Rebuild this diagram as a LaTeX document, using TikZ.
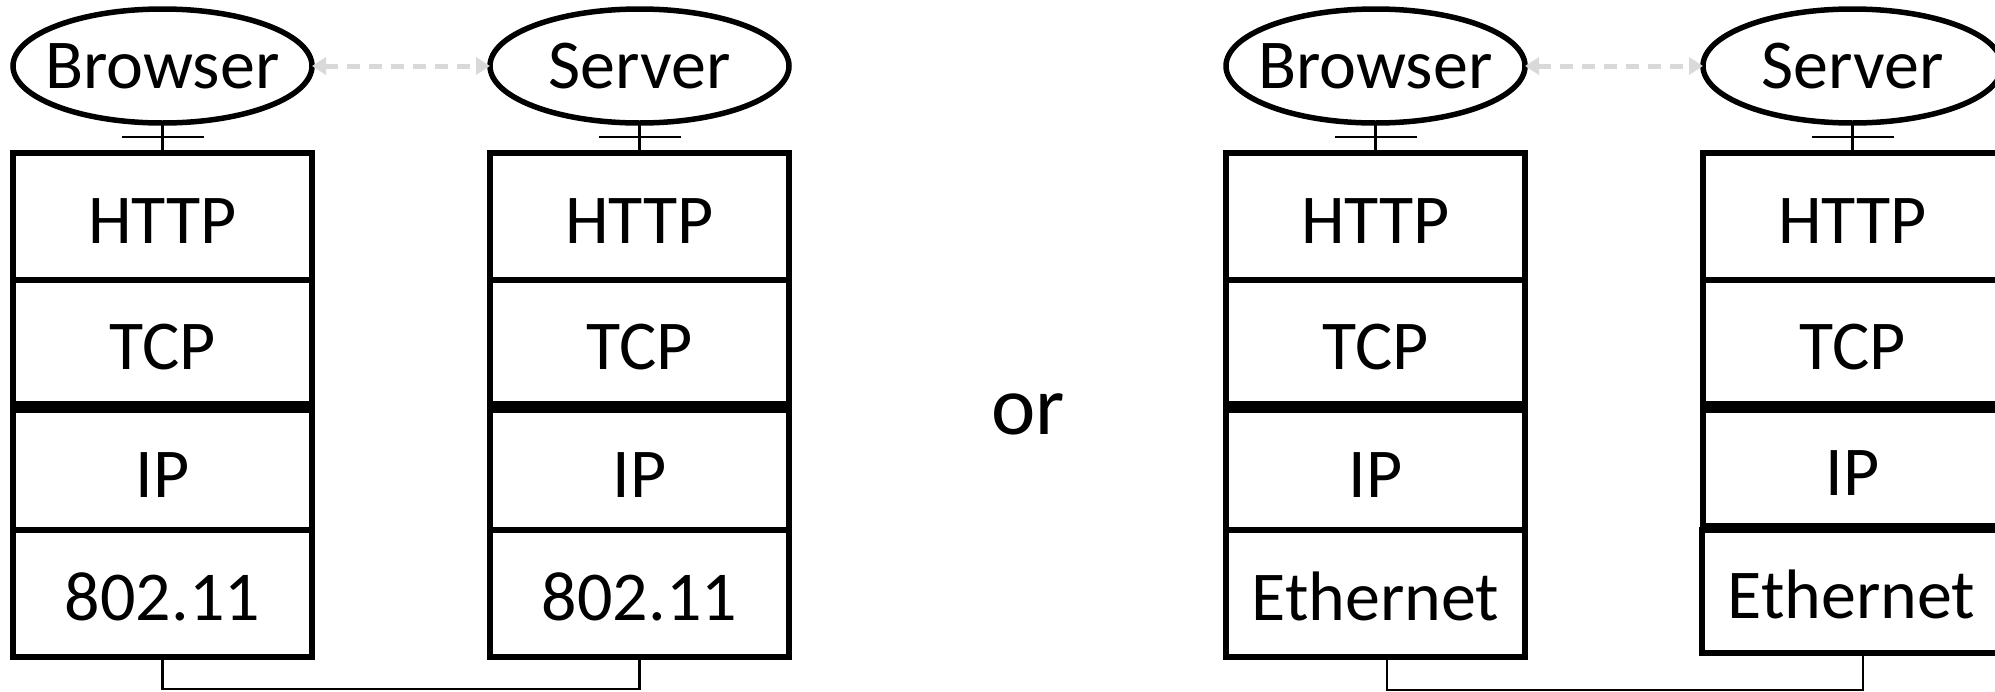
\documentclass[tikz,border=0pt]{standalone}
\usepackage{fontspec}
\setmainfont{Carlito}
\usepackage{xcolor}
\usepackage{tikz}
\usetikzlibrary{shapes.geometric, arrows.meta, decorations.markings}
\definecolor{linkgray}{RGB}{217,217,217}
\tikzset{
  -|-/.style={
    line width=2.5pt,
    postaction = {decorate},
    decoration = {
      markings,
      mark = at position #1 with {
        \arrow{Bar[width=82pt, line width=2.5pt]}
      }
    }
  },
  -|-/.default = 0.5
}
\tikzset{
  layer/.style={draw, rectangle, line width=5.5pt, minimum width=299pt, inner sep=0pt, outer sep=0pt, text height=54pt, text depth=0pt, font=\fontsize{70}{84}\selectfont},
  app/.style={draw, ellipse, line width=5.5pt, minimum width=299pt, minimum height=114pt, inner xsep=-13pt, inner ysep=0pt, outer sep=0pt, font=\fontsize{70}{84}\selectfont},
  linkarrow/.style={draw=linkgray, line width=5pt, dash pattern=on 13pt off 9pt, >={Triangle[length=14pt, width=17pt]}, <->},
  wire/.style={line width=2.5pt}
}

\begin{document}
\begin{tikzpicture}[x=1pt, y=-1pt]
\useasboundingbox (0,0) rectangle (1995,691);
\newcommand\XBL{162.5}
\newcommand\XSL{639.5}
\newcommand\XBR{1375.5}
\newcommand\XSR{1852.5}
% wireless pair
\node[app] (BrwL) at (\XBL,66) {Browser};
\node[layer, minimum height=127pt] (BrwL1) at (\XBL,216.5) {HTTP};
\node[layer, minimum height=124pt] (BrwL2) at (\XBL,342) {TCP};
\node[layer, minimum height=120pt] (BrwL3) at (\XBL,470) {IP};
\node[layer, minimum height=127pt] (BrwL4) at (\XBL,593.5) {802.11};
\node[app] (SrvL) at (\XSL,66) {Server};
\node[layer, minimum height=127pt] (SrvL1) at (\XSL,216.5) {HTTP};
\node[layer, minimum height=124pt] (SrvL2) at (\XSL,342) {TCP};
\node[layer, minimum height=120pt] (SrvL3) at (\XSL,470) {IP};
\node[layer, minimum height=127pt] (SrvL4) at (\XSL,593.5) {802.11};

\node[font=\fontsize{84}{100}\selectfont] (orword) at (1028,414) {or};

% wired pair
\node[app] (BrwR) at (\XBR,66) {Browser};
\node[layer, minimum height=127pt] (BrwR1) at (\XBR,216.5) {HTTP};
\node[layer, minimum height=124pt] (BrwR2) at (\XBR,342) {TCP};
\node[layer, minimum height=120pt] (BrwR3) at (\XBR,470) {IP};
\node[layer, minimum height=127pt] (BrwR4) at (\XBR,593.5) {Ethernet};
\node[app] (SrvR) at (\XSR,66) {Server};
\node[layer, minimum height=127pt] (SrvR1) at (\XSR,216.5) {HTTP};
\node[layer, minimum height=124pt] (SrvR2) at (\XSR,342) {TCP};
\node[layer, minimum height=116pt] (SrvR3) at (\XSR,468) {IP};
\node[layer, minimum height=123pt] (SrvR4) at (\XSR-1,591.5) {Ethernet};

\path (BrwL) edge[-|-] (BrwL1)
             edge[linkarrow] (SrvL)
      (SrvL) edge[-|-] (SrvL1)
      (BrwR) edge[-|-] (BrwR1)
             edge[linkarrow] (SrvR)
      (SrvR) edge[-|-] (SrvR1);

\draw[wire] (BrwL4.south) -- ++(0,32) -| (SrvL4.south);
\draw[wire] ([xshift=11.5pt]BrwR4.south) -- ++(0,33) -| ([xshift=11.5pt]SrvR4.south);
\end{tikzpicture}
\end{document}
